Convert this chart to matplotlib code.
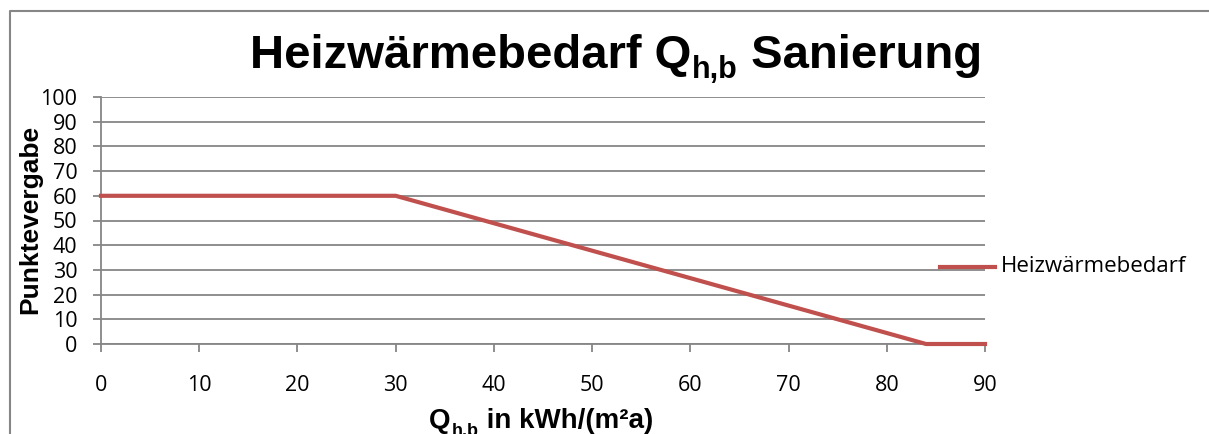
import matplotlib

matplotlib.use("Agg")
import matplotlib.pyplot as plt
from matplotlib.lines import Line2D

# data
qhb = [0, 30, 84, 90]
punkte = [60, 60, 0, 0]
series_name = "Heizwärmebedarf"
x_ticks = list(range(0, 91, 10))
y_ticks = list(range(0, 101, 10))

RED, GRID = "#C0504D", "#868686"
W, H = 1209, 434
BOLD = dict(fontweight="bold", family="Liberation Sans")

fig = plt.figure(figsize=(W / 100, H / 100), dpi=100)
ax = fig.add_axes([101 / W, 1 - 344 / H, (985 - 101) / W, (344 - 97) / H])

ax.plot(qhb, punkte, color=RED, lw=3, solid_joinstyle="miter", clip_on=False, zorder=3)
ax.set_xlim(0, 90)
ax.set_ylim(0, 100)
ax.set_xticks(x_ticks)
ax.set_yticks(y_ticks)
ax.grid(axis="y", color=GRID, lw=1.3)
for s in ["top", "right"]:
    ax.spines[s].set_visible(False)
for s in ["left", "bottom"]:
    ax.spines[s].set_color(GRID)
    ax.spines[s].set_linewidth(1.3)
ax.tick_params(colors=GRID, width=1.3, length=6, labelcolor="black")
ax.tick_params(axis="x", pad=16)
ax.tick_params(axis="y", pad=11)
for lab in ax.get_xticklabels() + ax.get_yticklabels():
    lab.set_fontfamily("Open Sans")
    lab.set_fontsize(15.5)

renderer = fig.canvas.get_renderer()


def text_width(s, size, style):
    t = fig.text(0, 0, s, fontsize=size, **style)
    w = t.get_window_extent(renderer).width
    t.remove()
    return w


def sub_text(cx, base, main, sub, tail, size, sub_size, drop, style):
    # centred "main" + lowered smaller "sub" + "tail", pixel coords from top-left
    wm = text_width(main, size, style)
    ws = text_width(sub, sub_size, style)
    wt = text_width(tail, size, style)
    x = cx - (wm + ws + wt + 1) / 2
    fig.text(x / W, 1 - base / H, main, va="baseline", fontsize=size, **style)
    fig.text((x + wm + 1) / W, 1 - (base + drop) / H, sub, va="baseline",
             fontsize=sub_size, **style)
    fig.text((x + wm + ws + 1) / W, 1 - base / H, tail, va="baseline",
             fontsize=size, **style)


sub_text(616, 68, "Heizwärmebedarf Q", "h,b", " Sanierung", 34, 22, 10, BOLD)
sub_text(541, 428, "Q", "h,b", " in kWh/(m²a)", 20, 13, 8, BOLD)

fig.text(30 / W, 1 - 219 / H, "Punktevergabe", rotation=90, ha="center", va="center",
         fontsize=19, **BOLD)

# legend: line + label outside plot on the right
fig.add_artist(Line2D([940 / W, 995 / W], [1 - 267 / H] * 2, color=RED, lw=3))
fig.text(1001 / W, 1 - 267 / H, series_name, ha="left", va="center",
         fontsize=16, family="Open Sans")

# chart area frame (top and left edges visible)
fig.add_artist(Line2D([9.5 / W, 9.5 / W, 1.0], [0, 1 - 11 / H, 1 - 11 / H],
                      color=GRID, lw=1.5))

fig.savefig("out.png", dpi=100)
